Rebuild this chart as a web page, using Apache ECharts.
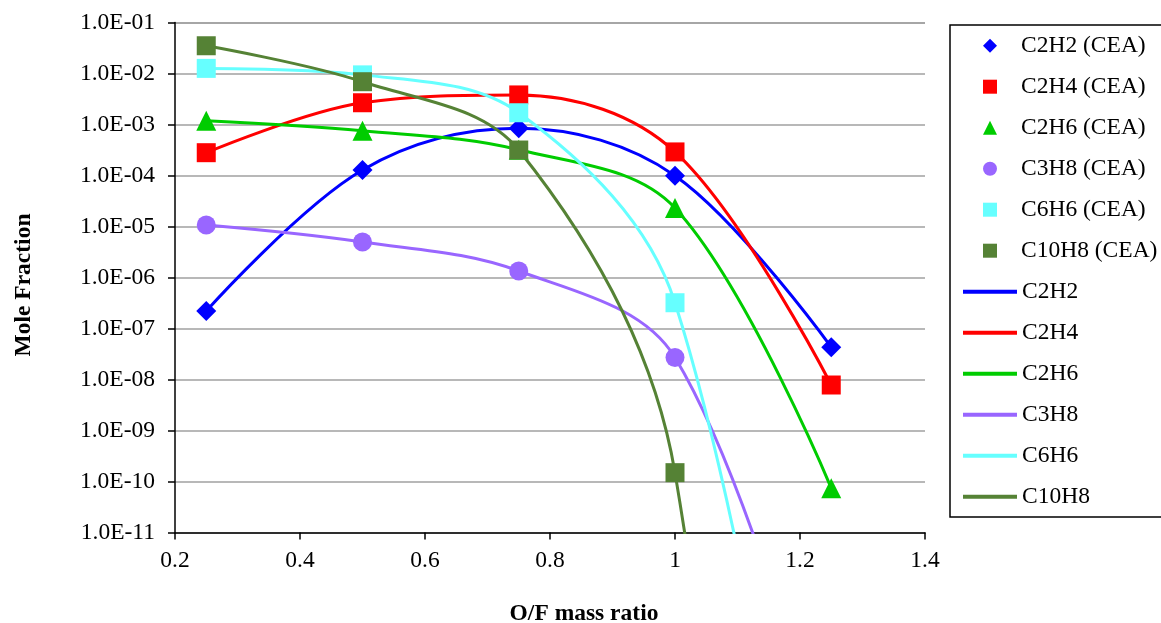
<!DOCTYPE html>
<html><head><meta charset="utf-8">
<script src="https://cdn.jsdelivr.net/npm/echarts@6/dist/echarts.min.js"></script>
<style>html,body{margin:0;padding:0;background:#fff}#c{width:1161px;height:623px}</style>
</head><body><div id="c"></div>
<script>
// O/F mass ratio (x)
const ratios = [0.25, 0.5, 0.75, 1.0, 1.25];
const species = ['C2H2', 'C2H4', 'C2H6', 'C3H8', 'C6H6', 'C10H8'];
// CEA points (markers)
const ceaC2H2 = [2.2e-7, 1.28e-4, 8.4e-4, 9.9e-5, 4.3e-8];
const ceaC2H4 = [2.8e-4, 2.67e-3, 3.8e-3, 2.9e-4, 7.8e-9];
const ceaC2H6 = [1.19e-3, 7.55e-4, 3.2e-4, 2.3e-5, 7.4e-11];
const ceaC3H8 = [1.07e-5, 4.97e-6, 1.34e-6, 2.7e-8, null];
const ceaC6H6 = [1.26e-2, 9.4e-3, 1.7e-3, 3.2e-7, null];
const ceaC10H8 = [3.5e-2, 6.9e-3, 3.16e-4, 1.49e-10, null];
// smoothed curves (last points of the three heavy species fall far below the axis)
const lineC2H2 = [2.2e-7, 1.28e-4, 8.4e-4, 9.9e-5, 4.3e-8];
const lineC2H4 = [2.8e-4, 2.67e-3, 3.8e-3, 2.9e-4, 7.8e-9];
const lineC2H6 = [1.19e-3, 7.55e-4, 3.2e-4, 2.3e-5, 7.4e-11];
const lineC3H8 = [1.07e-5, 4.97e-6, 1.34e-6, 2.7e-8, 1e-16];
const lineC6H6 = [1.26e-2, 9.4e-3, 1.7e-3, 3.2e-7, 1e-22];
const lineC10H8 = [3.5e-2, 6.9e-3, 3.16e-4, 1.49e-10, 1e-40];
// axis ticks
const xTicks = [0.2, 0.4, 0.6, 0.8, 1, 1.2, 1.4];
const yTickLabels = ['1.0E-11','1.0E-10','1.0E-09','1.0E-08','1.0E-07','1.0E-06','1.0E-05','1.0E-04','1.0E-03','1.0E-02','1.0E-01'];

const colors = ['#0000FF', '#FF0000', '#00CC00', '#9966FF', '#66FFFF', '#558235'];
const symbols = ['diamond', 'rect', 'triangle', 'circle', 'rect', 'rect'];
const symSizes = [20, 19, 20, 19, 19, 19];
const ceaData = [ceaC2H2, ceaC2H4, ceaC2H6, ceaC3H8, ceaC6H6, ceaC10H8];
const lineData = [lineC2H2, lineC2H4, lineC2H6, lineC3H8, lineC6H6, lineC10H8];

const FONT = "'Liberation Serif', 'Times New Roman', serif";
const toPairs = arr => ratios.map((x, i) => [x, arr[i]]).filter(p => p[1] != null);

const series = [];
species.forEach((s, i) => {
  series.push({
    name: s, type: 'line', smooth: 0.35, symbol: 'none', showSymbol: false,
    data: toPairs(lineData[i]), z: 2,
    lineStyle: { color: colors[i], width: 3 }, itemStyle: { color: colors[i] },
    clip: true
  });
});
species.forEach((s, i) => {
  series.push({
    name: s + ' (CEA)', type: 'scatter', symbol: symbols[i], symbolSize: symSizes[i],
    data: toPairs(ceaData[i]), z: 4,
    itemStyle: { color: colors[i], opacity: 1 }
  });
});

const legendText = { color: '#000', fontSize: 23.5, fontFamily: FONT, lineHeight: 24 };

const chart = echarts.init(document.getElementById('c'), null, { renderer: 'canvas' });
chart.setOption({
  animation: false,
  backgroundColor: '#fff',
  textStyle: { fontFamily: FONT },
  grid: { left: 175, top: 22.5, width: 750, height: 510, containLabel: false },
  xAxis: {
    type: 'value', min: 0.2, max: 1.4, interval: 0.2,
    axisLine: { show: true, lineStyle: { color: '#000', width: 1.5 } },
    axisTick: { show: true, length: 7, inside: false, lineStyle: { color: '#000', width: 1.5 } },
    axisLabel: { color: '#000', fontSize: 23.5, fontFamily: FONT, margin: 16,
      formatter: v => { const t = xTicks.find(k => Math.abs(k - v) < 1e-9); return t == null ? '' : String(t); } },
    splitLine: { show: false }
  },
  yAxis: {
    type: 'log', logBase: 10, min: 1e-11, max: 1e-1, splitNumber: 10, interval: 1,
    axisLine: { show: true, lineStyle: { color: '#000', width: 1.5 } },
    axisTick: { show: true, length: 7, inside: false, lineStyle: { color: '#000', width: 1.5 } },
    axisLabel: { color: '#000', fontSize: 23.5, fontFamily: FONT, margin: 20,
      formatter: v => yTickLabels[Math.round(Math.log10(v)) + 11] },
    splitLine: { show: true, lineStyle: { color: '#A0A0A0', width: 1.5 } }
  },
  legend: [
    {
      orient: 'vertical', left: 983, top: 33.7, padding: 0,
      itemWidth: 14, itemHeight: 14, itemGap: 17,
      selectedMode: false,
      textStyle: Object.assign({ padding: [0, 0, 0, 19] }, legendText),
      data: species.map((s, i) => ({ name: s + ' (CEA)', icon: symbols[i] }))
    },
    {
      orient: 'vertical', left: 963, top: 33.7 + 6 * 41, padding: 0,
      itemWidth: 54, itemHeight: 14, itemGap: 17,
      selectedMode: false,
      textStyle: legendText,
      data: species.map(s => ({ name: s, icon: 'path://M0,0H54V4H0Z' }))
    }
  ],
  graphic: [
    { type: 'rect', shape: { x: 950, y: 25, width: 240, height: 492 }, style: { fill: 'none', stroke: '#000', lineWidth: 1.5 }, z: 0 },
    { type: 'text', x: 584, y: 614, style: { text: 'O/F mass ratio', font: "bold 23.5px 'Liberation Serif', serif", fill: '#000', textAlign: 'center', textVerticalAlign: 'middle' } },
    { type: 'text', x: 24, y: 285, rotation: Math.PI / 2, style: { text: 'Mole Fraction', font: "bold 23.5px 'Liberation Serif', serif", fill: '#000', textAlign: 'center', textVerticalAlign: 'middle' } }
  ],
  series: series
});
</script></body></html>
